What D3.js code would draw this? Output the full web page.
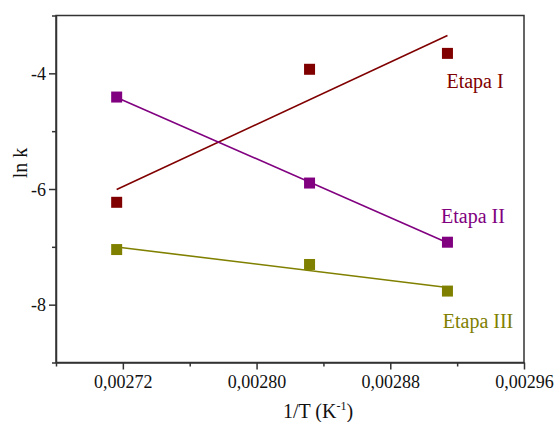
<!DOCTYPE html>
<html>
<head>
<meta charset="utf-8">
<script src="https://cdn.jsdelivr.net/npm/d3@7"></script>
<style>
  body { margin: 0; background: #fff; }
  text { font-family: "Liberation Serif", "Times New Roman", serif; }
</style>
</head>
<body>
<div id="chart"></div>
<script>
// 1/T values (K^-1)
var invT = [0.0027163, 0.0028317, 0.0029142];

// ln k for each stage
var etapaI   = [-6.23, -3.93, -3.655];
var etapaII  = [-4.41, -5.897, -6.92];
var etapaIII = [-7.047, -7.305, -7.765];

var seriesNames  = ["Etapa I", "Etapa II", "Etapa III"];
var seriesColors = ["#800000", "#800080", "#808000"];

var xTicks = [0.00272, 0.00280, 0.00288, 0.00296];
var xMinor = [0.00268, 0.00276, 0.00284, 0.00292];
var yTicks = [-4, -6, -8];
var yMinor = [-3, -5, -7, -9];

// where the stage names sit (data units)
var labelX = [0.0029307, 0.0029295, 0.0029325];
var labelY = [-4.25, -6.58, -8.41];

var W = 554, H = 422;
var margin = {top: 15.5, left: 56};
var width = 524 - margin.left, height = 362.5 - margin.top;

var svg = d3.select("#chart").append("svg").attr("width", W).attr("height", H)
var g = svg.append("g").attr("transform", "translate(" + margin.left + "," + margin.top + ")");

var x = d3.scaleLinear().domain([0.00268, 0.00296]).range([0, width]);
var y = d3.scaleLinear().domain([-9, -3]).range([height, 0]);

// least squares line through the points
function fit(xs, ys){
  var mx = d3.mean(xs), my = d3.mean(ys);
  var sxy = 0, sxx = 0;
  for(var i = 0; i < xs.length; i++){
    sxy += (xs[i] - mx) * (ys[i] - my);
    sxx += (xs[i] - mx) * (xs[i] - mx);
  }
  var b = sxy / sxx, a = my - b * mx;
  return [xs[0], xs[xs.length - 1]].map(function(v){ return {x: v, y: a + b * v}; });
}

var allSeries = [etapaI, etapaII, etapaIII];

allSeries.forEach(function(vals, k){
  var line = d3.line().x(function(d){ return x(d.x); }).y(function(d){ return y(d.y); });
  g.append("path")
    .datum(fit(invT, vals))
    .attr("d", line)
    .attr("stroke", seriesColors[k])
    .attr("stroke-width", 1.6)
    .attr("fill", "none");

  g.selectAll(".pt" + k)
    .data(vals)
    .enter().append("rect")
    .attr("x", function(d, i){ return x(invT[i]) - 5.5; })
    .attr("y", function(d){ return y(d) - 5.5; })
    .attr("width", 11)
    .attr("height", 11)
    .attr("fill", seriesColors[k]);

  g.append("text")
    .attr("x", x(labelX[k]))
    .attr("y", y(labelY[k]))
    .attr("text-anchor", "middle")
    .attr("font-size", 20)
    .attr("fill", seriesColors[k])
    .text(seriesNames[k]);
});

// frame
var axisColor = "#333";
g.append("rect").attr("x", 0).attr("y", 0).attr("width", width).attr("height", height)
  .attr("fill", "none").attr("stroke", axisColor).attr("stroke-width", 1.5);

// x axis
var xAxis = g.append("g").attr("transform", "translate(0," + height + ")")
  .call(d3.axisBottom(x).tickValues(xTicks).tickSize(7).tickSizeOuter(0)
    .tickFormat(function(d){ return d3.format(".5f")(d).replace(".", ","); }));
g.append("g").attr("transform", "translate(0," + height + ")")
  .call(d3.axisBottom(x).tickValues(xMinor).tickSize(4).tickSizeOuter(0).tickFormat(""))
  .select(".domain").remove();

// y axis
var yAxis = g.append("g")
  .call(d3.axisLeft(y).tickValues(yTicks).tickSize(7).tickSizeOuter(0)
    .tickFormat(function(d){ return String(d); }));
g.append("g")
  .call(d3.axisLeft(y).tickValues(yMinor).tickSize(4).tickSizeOuter(0).tickFormat(""))
  .select(".domain").remove();

g.selectAll(".domain").attr("stroke", axisColor).attr("stroke-width", 1.5);
g.selectAll(".tick line").attr("stroke", axisColor).attr("stroke-width", 1.5);
g.selectAll(".tick text")
  .attr("font-family", "Liberation Serif, serif")
  .attr("font-size", 18)
  .attr("fill", "#111");
xAxis.selectAll(".tick text").attr("dy", null).attr("y", 25.5);
yAxis.selectAll(".tick text").attr("x", -10).attr("dy", "0.35em");

// axis titles
var xt = svg.append("text")
  .attr("x", 318).attr("y", 418)
  .attr("text-anchor", "middle")
  .attr("font-size", 20)
  .attr("fill", "#111");
xt.append("tspan").text("1/T (K");
xt.append("tspan").attr("font-size", 12).attr("dy", -8).text("-1");
xt.append("tspan").attr("dy", 8).text(")");

svg.append("text")
  .attr("transform", "translate(27,163) rotate(-90)")
  .attr("text-anchor", "middle")
  .attr("font-size", 20)
  .attr("fill", "#111")
  .text("ln k");
</script>
</body>
</html>
